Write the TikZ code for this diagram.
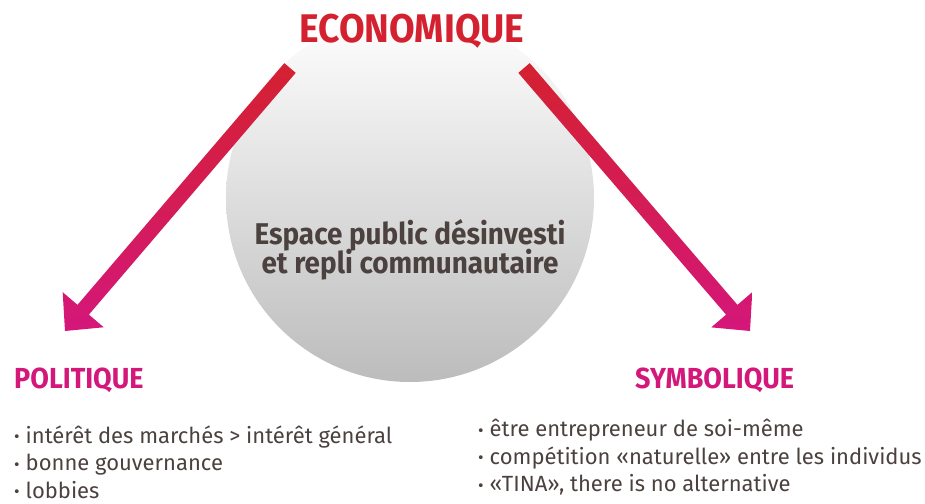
\documentclass[tikz,border=0pt]{standalone}
\usepackage{fontspec}
\setmainfont{Fira Sans}
\newfontfamily\headfont[FakeStretch=0.93]{Fira Sans}
\usetikzlibrary{calc}

\definecolor{ecored}{HTML}{D42130}
\definecolor{polmag}{HTML}{D4177A}
\definecolor{bodytxt}{HTML}{4B413E}
\definecolor{discgray}{HTML}{BDBCBC}

% block arrow, shaded from red to magenta
\newcommand{\bigarrow}[2]{%
  \path ($(#2)!28pt!(#1)$) coordinate (back);
  \shade[top color=ecored, bottom color=polmag]
    ($(#1)!7.5pt!90:(#2)$) -- ($(back)!7.5pt!90:(#2)$) -- ($(back)!27pt!90:(#2)$)
    -- (#2) -- ($(back)!27pt!-90:(#2)$) -- ($(back)!7.5pt!-90:(#2)$)
    -- ($(#1)!7.5pt!-90:(#2)$) -- cycle;
}
\newcommand{\itemdot}{\raisebox{0.5pt}{\fontsize{17}{17}\selectfont •}\hspace{6pt}}

\begin{document}
\begin{tikzpicture}[
    x=1pt, y=-1pt,
    disc/.style={circle, minimum size=368pt, inner sep=0pt, top color=white, bottom color=discgray},
    head/.style={font=\headfont\bfseries\fontsize{40}{40}\selectfont, inner sep=0pt, anchor=base},
    centre/.style={font=\headfont\bfseries\fontsize{30}{30}\selectfont, text=bodytxt, inner sep=0pt, anchor=base},
    sub/.style={font=\headfont\bfseries\fontsize{29}{29}\selectfont, text=polmag, inner sep=0pt, anchor=base west},
    item/.style={font=\fontsize{22}{22}\selectfont, text=bodytxt, inner sep=0pt, anchor=base west}
]
\useasboundingbox (0,0) rectangle (925,503);

% Circle
\node[disc] (disc) at (410,198) {};
\node[centre] (espace1) at (410,244) {Espace public désinvesti};
\node[centre] (espace2) at (410,273) {et repli communautaire};

% Title
\node[head, text=ecored] (eco) at (412,43) {ECONOMIQUE};

% Arrows
\coordinate (ecoL) at (290,68);
\coordinate (ecoR) at (524,68);
\coordinate (polTip) at (65,331);
\coordinate (symTip) at (750,331);
\bigarrow{ecoL}{polTip}
\bigarrow{ecoR}{symTip}

% Sides
\node[sub] (pol) at (14,388) {POLITIQUE};
\node[sub] (sym) at (635,388) {SYMBOLIQUE};

\foreach \txt [count=\i] in {intérêt des marchés > intérêt général, bonne gouvernance, lobbies}
  \node[item] (pol\i) at (14,{443.3+27.4*(\i-1)}) {\itemdot\txt};
\foreach \txt [count=\i] in {être entrepreneur de soi-même, compétition «naturelle» entre les individus, {«TINA», there is no alternative}}
  \node[item] (sym\i) at (478,{436.7+27.5*(\i-1)}) {\itemdot\txt};

\end{tikzpicture}
\end{document}
